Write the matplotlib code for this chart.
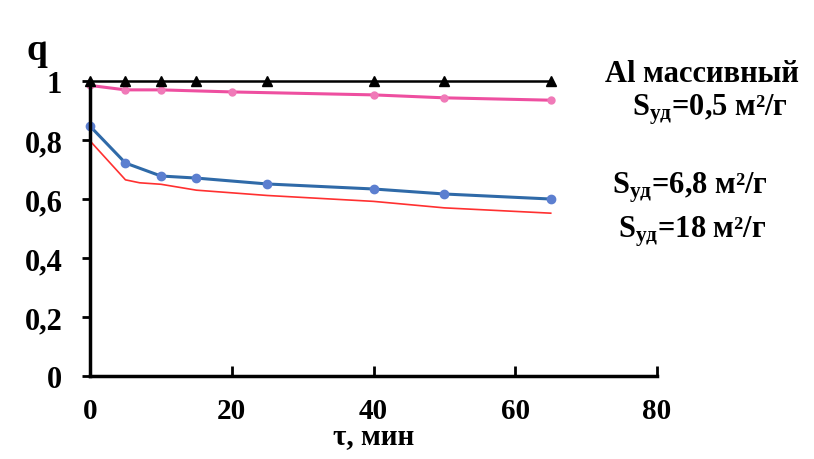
import matplotlib
matplotlib.use("Agg")
import matplotlib.pyplot as plt

plt.rcParams["font.family"] = ["Liberation Serif", "DejaVu Serif"]
plt.rcParams["font.weight"] = "bold"
plt.rcParams["mathtext.fontset"] = "custom"
plt.rcParams["mathtext.rm"] = "Liberation Serif:bold"
plt.rcParams["mathtext.bf"] = "Liberation Serif:bold"
plt.rcParams["mathtext.it"] = "Liberation Serif:bold"

# data
t_al = [0, 5, 10, 15, 25, 40, 50, 65]
q_al = [1.0, 1.0, 1.0, 1.0, 1.0, 1.0, 1.0, 1.0]

t_05 = [0, 5, 10, 20, 40, 50, 65]
q_05 = [0.985, 0.970, 0.970, 0.963, 0.953, 0.943, 0.935]

t_68 = [0, 5, 10, 15, 25, 40, 50, 65]
q_68 = [0.847, 0.722, 0.678, 0.671, 0.651, 0.634, 0.617, 0.600]

t_18 = [0, 5, 7, 10, 15, 25, 40, 50, 65]
q_18 = [0.797, 0.665, 0.655, 0.650, 0.630, 0.612, 0.592, 0.570, 0.552]

x_ticks = [0, 20, 40, 60, 80]
y_ticks = [0, 0.2, 0.4, 0.6, 0.8, 1.0]
y_labels = ["0", "0,2", "0,4", "0,6", "0,8", "1"]

fig = plt.figure(figsize=(8.14, 4.6), dpi=100)
ax = fig.add_axes([0.1106, 0.1804, 0.6966, 0.6413])

ax.plot(t_18, q_18, color="#ff3030", lw=1.2, clip_on=False)
ax.plot(t_68, q_68, color="#2f6aa8", lw=2.2, marker="o", ms=6,
        mfc="#5c7fd0", mec="#5c7fd0", clip_on=False)
ax.plot(t_05, q_05, color="#ee4fa0", lw=2.2, marker="o", ms=5,
        mfc="#f07ab8", mec="#f07ab8", clip_on=False)
ax.plot(t_al, q_al, color="black", lw=1.8, marker="^", ms=7, clip_on=False)

ax.set_xlim(0, 80)
ax.set_ylim(0, 1)
ax.spines["top"].set_visible(False)
ax.spines["right"].set_visible(False)
ax.spines["left"].set_linewidth(2.5)
ax.spines["bottom"].set_linewidth(2.5)

ax.set_xticks(x_ticks)
ax.set_xticklabels([str(v) for v in x_ticks], fontsize=21, fontweight="bold")
ax.set_yticks(y_ticks)
ax.set_yticklabels(y_labels, fontsize=22, fontweight="bold")
ax.tick_params(axis="x", direction="in", length=7, width=2, pad=15)
ax.tick_params(axis="y", direction="out", length=6, width=2, pad=14)

ax.set_xlabel("τ, мин", fontsize=21, fontweight="bold", labelpad=-1)
fig.text(0.045, 0.89, "q", fontsize=27, fontweight="bold",
         ha="center", va="center")

fs = 22
fig.text(0.862, 0.837, "Al массивный", fontsize=fs, fontweight="bold",
         ha="center", va="center")
fig.text(0.872, 0.762, r"S$_{\mathrm{уд}}$=0,5 м²/г", fontsize=fs,
         fontweight="bold", ha="center", va="center")
fig.text(0.848, 0.593, r"S$_{\mathrm{уд}}$=6,8 м²/г", fontsize=fs,
         fontweight="bold", ha="center", va="center")
fig.text(0.85, 0.496, r"S$_{\mathrm{уд}}$=18 м²/г", fontsize=fs,
         fontweight="bold", ha="center", va="center")

fig.savefig("out.png", dpi=100)
